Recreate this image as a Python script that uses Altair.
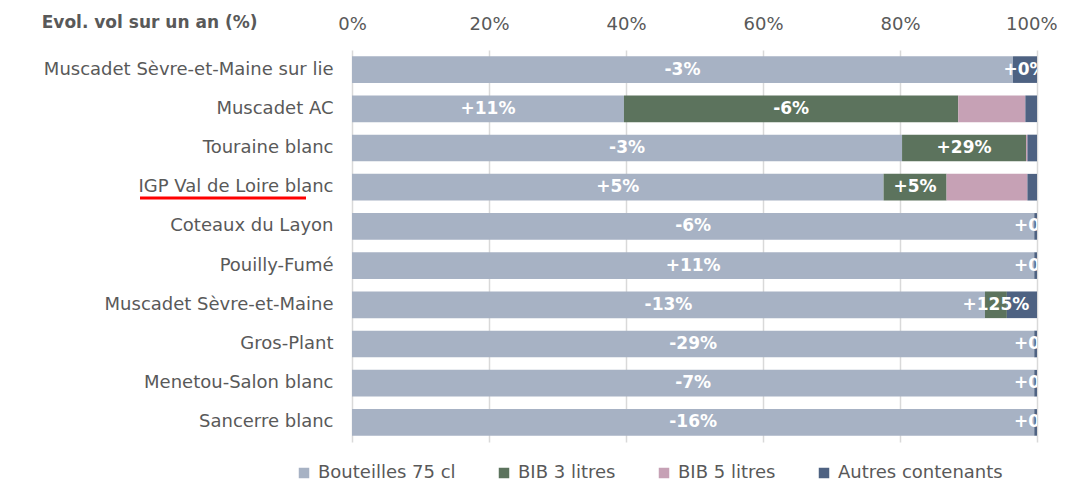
import altair as alt
import pandas as pd

categories = [
    "Muscadet Sèvre-et-Maine sur lie",
    "Muscadet AC",
    "Touraine blanc",
    "IGP Val de Loire blanc",
    "Coteaux du Layon",
    "Pouilly-Fumé",
    "Muscadet Sèvre-et-Maine",
    "Gros-Plant",
    "Menetou-Salon blanc",
    "Sancerre blanc",
]
series = ["Bouteilles 75 cl", "BIB 3 litres", "BIB 5 litres", "Autres contenants"]
colors = ["#a7b2c4", "#5c735d", "#c6a1b5", "#4e6282"]

bouteilles = [96.5, 39.7, 80.3, 77.6, 99.6, 99.6, 92.4, 99.6, 99.6, 99.6]
bib3 = [0.0, 48.8, 18.1, 9.2, 0.0, 0.0, 3.2, 0.0, 0.0, 0.0]
bib5 = [0.0, 9.8, 0.2, 11.8, 0.0, 0.0, 0.0, 0.0, 0.0, 0.0]
autres = [3.5, 1.7, 1.4, 1.4, 0.4, 0.4, 4.4, 0.4, 0.4, 0.4]

lab_bouteilles = ["-3%", "+11%", "-3%", "+5%", "-6%", "+11%", "-13%", "-29%", "-7%", "-16%"]
lab_bib3 = ["", "-6%", "+29%", "+5%", "", "", "+125%", "", "", ""]
lab_bib5 = ["", "", "", "", "", "", "", "", "", ""]
lab_autres = ["+0%", "", "", "", "+0%", "+0%", "", "+0%", "+0%", "+0%"]

x_ticks = [0, 20, 40, 60, 80, 100]

rows = []
for i, c in enumerate(categories):
    for j, (s, vals, labs) in enumerate(zip(series,
                                            [bouteilles, bib3, bib5, autres],
                                            [lab_bouteilles, lab_bib3, lab_bib5, lab_autres])):
        rows.append(dict(cat=c, serie=s, order=j, value=vals[i], label=labs[i]))
df = pd.DataFrame(rows)

FONT = "DejaVu Sans"
GREY = "#595959"
FS = 18

base = alt.Chart(df).transform_stack(
    stack="value", groupby=["cat"], as_=["x0", "x1"], sort=[alt.SortField("order")]
).transform_calculate(mid="(datum.x0 + datum.x1) / 2")

yenc = alt.Y(
    "cat:N", sort=categories,
    scale=alt.Scale(paddingInner=0.32, paddingOuter=0.16),
    axis=alt.Axis(
        title="Evol. vol sur un an (%)", titleAngle=0, titleAlign="right",
        titleBaseline="middle", titleX=-95, titleY=-28, titleFontWeight="bold",
        titleFontSize=17, titleColor=GREY, titleFont=FONT,
        labelFontSize=FS, labelColor=GREY, labelFont=FONT, labelPadding=19,
        domain=False, ticks=False, labelLimit=400,
    ),
)

bars = base.mark_bar().encode(
    x=alt.X("x0:Q", scale=alt.Scale(domain=[0, 100]),
            axis=alt.Axis(orient="top", values=x_ticks, labelExpr="datum.value + '%'",
                          title=None, domain=False, ticks=False, grid=True,
                          gridColor="#d9d9d9", gridWidth=1.5, labelFontSize=FS,
                          labelColor=GREY, labelFont=FONT, labelPadding=17,
                          labelFlush=False,
                          labelAlign=alt.ExprRef(expr="datum.value == 100 ? 'right' : 'center'"),
                          labelOffset=alt.ExprRef(expr="datum.value == 100 ? 20 : 0"))),
    x2="x1:Q",
    y=yenc,
    color=alt.Color("serie:N", scale=alt.Scale(domain=series, range=colors),
                    legend=alt.Legend(title=None, orient="none", direction="horizontal",
                                      legendX=-57, legendY=414, symbolType="square",
                                      symbolSize=110, symbolStrokeWidth=0,
                                      labelFontSize=FS, labelColor=GREY, labelFont=FONT,
                                      labelLimit=300, columnPadding=39, labelOffset=5)),
)

texts = base.transform_filter("datum.label != ''").mark_text(
    color="white", fontWeight="bold", fontSize=17, font=FONT, clip=True
).encode(
    x=alt.X("mid:Q"),
    y=alt.Y("cat:N", sort=categories),
    text="label:N",
)

underline = alt.Chart(pd.DataFrame({"a": [0]})).mark_rule(
    color="#ff0000", strokeWidth=3
).encode(x=alt.value(-212), x2=alt.value(-46), y=alt.value(148))

chart = alt.layer(bars, texts, underline).properties(
    width=685, height=392,
    autosize=alt.AutoSizeParams(type="none"),
    padding={"left": 344, "top": 42, "right": 20, "bottom": 40},
).configure_view(stroke=None)

chart.save("out.html", embed_options={"renderer": "svg", "actions": False})
